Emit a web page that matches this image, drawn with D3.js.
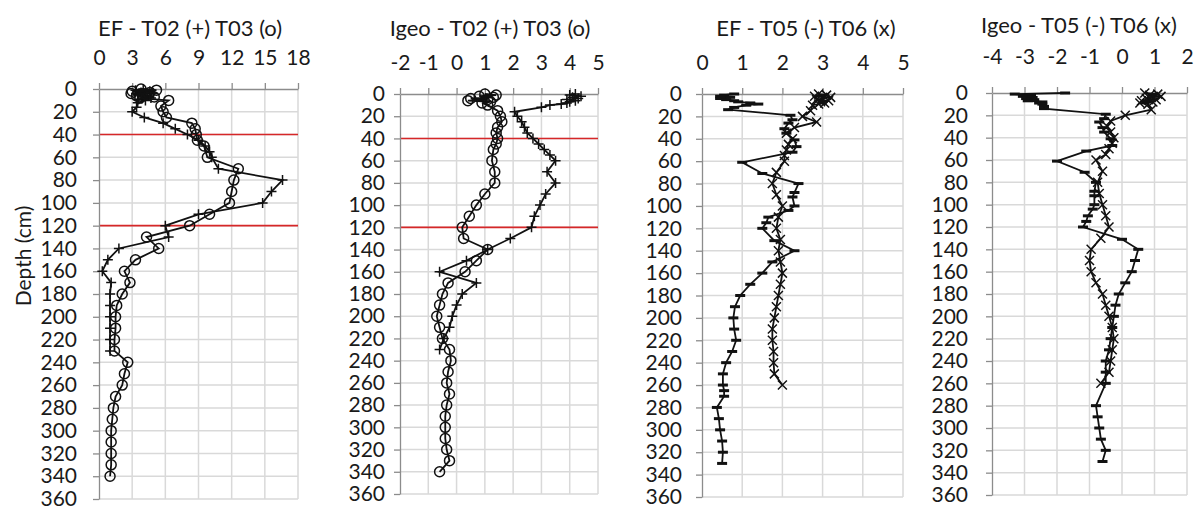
<!DOCTYPE html>
<html lang="en">
<head>
    <meta charset="UTF-8">
    <title>EF / Igeo profiles</title>
    <script type="text/javascript" src="https://cdn.jsdelivr.net/npm/d3@7"></script>
    <style>
    body { margin: 0; background: #fff; }
    svg text { font-family: Lato, "Open Sans", sans-serif; fill: #1a1a1a; }
    .grid line { stroke: #d9d9d9; stroke-width: 1.5; }
    .axis path, .axis line { stroke: #8c8c8c; stroke-width: 1.3; }
    .series path.line { fill: none; stroke: #111; stroke-width: 1.8; }
    .marker { fill: none; stroke: #111; stroke-width: 1.5; }
    .limit { stroke: #d62728; stroke-width: 1.6; }
    </style>
</head>
<body>
    <script type="text/javascript">

        var width = 1195;
        var height = 506;

        // depth axis (cm) shared by all four panels
        var depthTicks = d3.range(0, 361, 20);
        var limitDepths = [40, 120];

        // x tick labels of each panel
        var efT02Ticks = [0, 3, 6, 9, 12, 15, 18];
        var igeoT02Ticks = [-2, -1, 0, 1, 2, 3, 4, 5];
        var efT05Ticks = [0, 1, 2, 3, 4, 5];
        var igeoT05Ticks = [-4, -3, -2, -1, 0, 1, 2];

        // T02 (+)
        var depthT02 = [0,1,2,3,4,5,6,7,8,9,10,12,16,20,25,30,35,40,45,50,55,60,70,80,90,100,110,120,130,140,150,160,170,180,190,200,210,220,230];
        var efT02 = [4.0,3.3,4.6,3.8,4.9,3.5,4.4,4.0,4.7,3.6,4.2,3.5,3.4,3.0,4.1,5.8,6.9,8.0,9.0,9.6,10.0,10.2,10.8,16.6,15.6,14.8,9.0,6.0,6.3,1.8,0.8,0.3,1.1,1.0,1.0,1.0,1.0,1.0,1.0];
        var igeoT02 = [4.2,4.0,4.4,4.1,4.3,3.9,4.2,4.0,3.9,3.7,3.3,3.0,2.05,2.15,2.3,2.4,2.5,2.7,2.9,3.1,3.3,3.5,3.2,3.5,3.15,2.95,2.75,2.65,1.9,1.1,0.35,-0.6,0.7,0.2,0.0,-0.15,-0.25,-0.45,-0.6];

        // T03 (o)
        var depthT03 = [0,1,2,3,4,5,6,7,8,10,15,20,25,30,35,40,45,50,60,70,80,90,100,110,120,130,140,150,160,170,180,190,200,210,220,230,240,250,260,270,280,290,300,310,320,330,340];
        var efT03 = [3.8,5.2,3.0,4.6,2.9,4.3,3.4,5.0,3.7,6.3,5.6,5.8,6.1,8.4,8.7,8.8,8.9,9.5,9.8,12.6,12.2,12.0,11.8,10.0,8.2,4.3,5.4,3.3,2.3,2.8,2.1,1.6,1.5,1.5,1.4,1.4,2.6,2.3,2.1,1.5,1.3,1.2,1.1,1.1,1.1,1.1,1.0];
        var igeoT03 = [1.0,1.4,0.8,1.3,0.5,1.1,0.4,1.2,0.9,1.1,1.45,1.55,1.6,1.45,1.4,1.45,1.4,1.3,1.25,1.35,1.35,1.0,0.7,0.45,0.2,0.25,1.1,0.7,0.3,-0.3,-0.5,-0.6,-0.7,-0.6,-0.5,-0.25,-0.2,-0.3,-0.35,-0.25,-0.35,-0.4,-0.4,-0.4,-0.35,-0.25,-0.6];

        // T05 (-)
        var depthEfT05 = [0,1,2,3,4,5,6,7,8,9,10,12,14,19,23,26,31,35,41,47,52,61,71,80,88,92,100,104,110,115,120,131,140,150,160,170,180,190,200,210,220,230,240,250,260,265,270,280,290,300,310,320,330];
        var efT05 = [0.8,0.55,0.45,0.7,0.45,0.6,0.8,0.9,1.2,1.4,1.1,0.8,0.65,2.2,2.25,2.15,2.05,2.1,2.3,2.35,2.25,1.0,1.5,2.4,2.3,2.25,2.3,2.15,1.65,1.6,1.5,1.8,2.3,1.75,1.5,1.2,0.95,0.82,0.78,0.8,0.85,0.75,0.6,0.52,0.52,0.55,0.55,0.37,0.42,0.45,0.5,0.52,0.5];
        var depthIgeoT05 = [0,1,2,3,4,5,6,7,8,9,10,12,14,19,23,26,31,35,41,47,52,61,71,80,88,92,100,104,110,115,120,131,140,150,160,170,180,190,200,210,220,230,240,250,260,280,290,300,310,320,330];
        var igeoT05 = [-1.75,-3.3,-2.8,-3.05,-2.75,-2.95,-2.7,-2.9,-2.45,-2.55,-2.45,-2.4,-2.4,-0.5,-0.55,-0.7,-0.6,-0.55,-0.35,-0.3,-1.1,-2.0,-1.15,-0.8,-0.85,-0.85,-0.85,-0.9,-1.05,-1.1,-1.2,0.0,0.5,0.4,0.3,0.1,-0.1,-0.2,-0.25,-0.3,-0.35,-0.4,-0.5,-0.5,-0.5,-0.8,-0.75,-0.7,-0.65,-0.5,-0.6];

        // T06 (x)
        var depthT06 = [0,1,2,3,4,5,6,7,8,9,10,15,20,25,30,35,40,45,50,55,60,70,80,90,100,110,120,130,140,150,160,170,180,190,200,210,220,230,240,250,260];
        var efT06 = [2.9,3.1,2.8,3.2,3.0,2.85,3.15,2.95,3.05,2.9,2.75,2.7,2.5,2.85,2.3,2.1,2.25,2.15,2.1,2.05,2.05,1.85,1.75,1.85,2.0,1.9,1.85,1.95,1.9,1.95,2.0,1.95,1.9,1.85,1.8,1.75,1.75,1.78,1.78,1.8,2.0];
        var igeoT06 = [0.7,1.1,0.85,1.2,0.9,0.75,1.05,0.6,0.95,0.55,0.8,0.9,0.1,-0.35,-0.45,-0.35,-0.25,-0.3,-0.4,-0.5,-0.8,-0.6,-0.75,-0.7,-0.6,-0.5,-0.4,-0.65,-0.95,-1.0,-0.95,-0.8,-0.6,-0.5,-0.4,-0.3,-0.25,-0.3,-0.35,-0.4,-0.65];

        var svg = d3.select("body").append("svg").attr("width", width).attr("height", height);

        var panels = [
            { title: "EF - T02 (+) T03 (o)", titleX: 190, titleY: 28, box: [99, 298, 89, 499], domain: [0, 18], ticks: efT02Ticks, xLabelY: 58, yLabelGap: 22, limits: true,
              series: [{ depth: depthT02, value: efT02, marker: "plus" }, { depth: depthT03, value: efT03, marker: "circle" }] },
            { title: "Igeo - T02 (+) T03 (o)", titleX: 490, titleY: 28, box: [400, 598, 94, 494], domain: [-2, 5], ticks: igeoT02Ticks, xLabelY: 63, yLabelGap: 15, limits: true,
              series: [{ depth: depthT02, value: igeoT02, marker: "plus" }, { depth: depthT03, value: igeoT03, marker: "circle" }] },
            { title: "EF  - T05 (-) T06 (x)", titleX: 806, titleY: 28, box: [702, 903, 94, 497], domain: [0, 5], ticks: efT05Ticks, xLabelY: 63, yLabelGap: 20, limits: false,
              series: [{ depth: depthEfT05, value: efT05, marker: "dash" }, { depth: depthT06, value: efT06, marker: "cross" }] },
            { title: "Igeo - T05 (-) T06 (x)", titleX: 1079, titleY: 25, box: [992, 1187, 93, 495], domain: [-4, 2], ticks: igeoT05Ticks, xLabelY: 57, yLabelGap: 24, limits: false,
              series: [{ depth: depthIgeoT05, value: igeoT05, marker: "dash" }, { depth: depthT06, value: igeoT06, marker: "cross" }] }
        ];

        var markerPaths = {
            plus: "M-5,0H5M0,-5V5",
            cross: "M-4.5,-4.5L4.5,4.5M-4.5,4.5L4.5,-4.5",
            dash: "M-5,0H5"
        };

        // plain hyphen for negatives, like the original
        var fmt = function(d){ return String(d); };

        panels.forEach(function(p) {
            var x = d3.scaleLinear().domain(p.domain).range([p.box[0], p.box[1]]);
            var y = d3.scaleLinear().domain([0, 360]).range([p.box[2], p.box[3]]);
            var g = svg.append("g");

            // grid
            var grid = g.append("g").attr("class", "grid");
            grid.selectAll("line.v").data(p.ticks.slice(1)).enter().append("line")
                .attr("x1", function(d){ return x(d); }).attr("x2", function(d){ return x(d); })
                .attr("y1", y(0)).attr("y2", y(360));
            grid.selectAll("line.h").data(depthTicks.slice(1)).enter().append("line")
                .attr("x1", x(p.domain[0])).attr("x2", x(p.domain[1]))
                .attr("y1", function(d){ return y(d); }).attr("y2", function(d){ return y(d); });

            // red limit lines
            if (p.limits) {
                g.selectAll("line.limit").data(limitDepths).enter().append("line").attr("class", "limit")
                    .attr("x1", x(p.domain[0])).attr("x2", x(p.domain[1]))
                    .attr("y1", function(d){ return y(d); }).attr("y2", function(d){ return y(d); });
            }

            // axes
            var xAxis = g.append("g").attr("class", "axis").attr("transform", "translate(0," + y(0) + ")")
                .call(d3.axisTop(x).tickValues(p.ticks).tickFormat(fmt).tickSize(6).tickSizeOuter(0));
            xAxis.selectAll("text").attr("y", p.xLabelY - y(0)).attr("dy", "0.35em").style("font-size", "21px");
            var yAxis = g.append("g").attr("class", "axis").attr("transform", "translate(" + x(p.domain[0]) + ",0)")
                .call(d3.axisLeft(y).tickValues(depthTicks).tickFormat(fmt).tickSize(6).tickSizeOuter(0));
            yAxis.selectAll("text").attr("x", -p.yLabelGap).style("font-size", "21px");
            g.selectAll(".axis text").attr("fill", "#1a1a1a");

            // title
            g.append("text").attr("x", p.titleX).attr("y", p.titleY).attr("dy", "0.35em")
                .attr("text-anchor", "middle").style("font-size", "22px").text(p.title);

            // series
            var line = d3.line().x(function(d){ return x(d[1]); }).y(function(d){ return y(d[0]); });
            p.series.forEach(function(s) {
                var pts = s.depth.map(function(d, i){ return [d, s.value[i]]; });
                var sg = g.append("g").attr("class", "series");
                sg.append("path").attr("class", "line").attr("d", line(pts));
                if (s.marker === "circle") {
                    sg.selectAll("circle").data(pts).enter().append("circle").attr("class", "marker")
                        .attr("cx", function(d){ return x(d[1]); }).attr("cy", function(d){ return y(d[0]); }).attr("r", 5);
                } else {
                    sg.selectAll("path.marker").data(pts).enter().append("path").attr("class", "marker")
                        .attr("d", markerPaths[s.marker])
                        .style("stroke-width", s.marker === "dash" ? 3 : 1.5)
                        .attr("transform", function(d){ return "translate(" + x(d[1]) + "," + y(d[0]) + ")"; });
                }
            });
        });

        // depth label
        svg.append("text").attr("transform", "translate(24,256) rotate(-90)").attr("dy", "0.35em")
            .attr("text-anchor", "middle").style("font-size", "21px").text("Depth (cm)");

    </script>
</body>
</html>
